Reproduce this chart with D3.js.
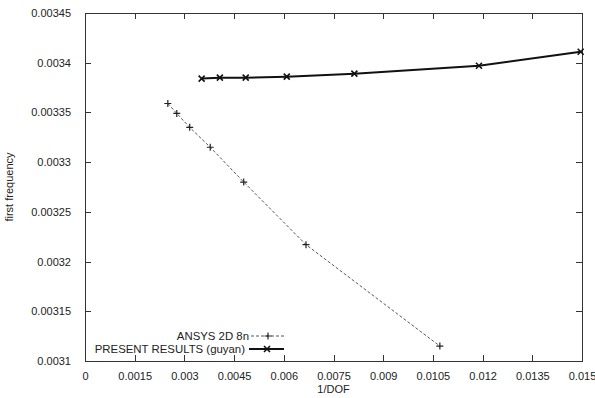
<!DOCTYPE html>
<html><head><meta charset="utf-8">
<script src="https://cdn.jsdelivr.net/npm/d3@7"></script>
<style>body{margin:0;background:#fff}svg{display:block}text{font-family:"Liberation Sans",Arial,sans-serif;fill:#222}</style>
</head><body><svg id="c" width="595" height="398"></svg>
<script>
const ansysX = [0.0025, 0.00277, 0.00316, 0.00378, 0.00479, 0.00667, 0.01071];
const ansysY = [0.003359, 0.003349, 0.003335, 0.003315, 0.003280, 0.003217, 0.003115];
const presentX = [0.00352, 0.00407, 0.00485, 0.00609, 0.00813, 0.01189, 0.01496];
const presentY = [0.003384, 0.003385, 0.003385, 0.003386, 0.003389, 0.003397, 0.003411];
const xTicks = [0, 0.0015, 0.003, 0.0045, 0.006, 0.0075, 0.009, 0.0105, 0.012, 0.0135, 0.015];
const xTickLabels = ["0","0.0015","0.003","0.0045","0.006","0.0075","0.009","0.0105","0.012","0.0135","0.015"];
const yTicks = [0.0031, 0.00315, 0.0032, 0.00325, 0.0033, 0.00335, 0.0034, 0.00345];
const yTickLabels = ["0.0031","0.00315","0.0032","0.00325","0.0033","0.00335","0.0034","0.00345"];
const seriesNames = ["ANSYS 2D 8n", "PRESENT RESULTS (guyan)"];

const L=85,R=582,T=13,B=361;
const svg=d3.select("#c");
const x=d3.scaleLinear().domain([0,0.015]).range([L,R]);
const y=d3.scaleLinear().domain([0.0031,0.00345]).range([B,T]);

const g=svg.append("g");
g.append("rect").attr("x",L).attr("y",T).attr("width",R-L).attr("height",B-T)
 .attr("fill","none").attr("stroke","#333").attr("stroke-width",1).attr("shape-rendering","crispEdges");

const fs=11;
const bx=svg.append("g").attr("transform",`translate(0,${B})`)
 .call(d3.axisBottom(x).tickValues(xTicks).tickFormat((d,i)=>xTickLabels[i]).tickSizeInner(-6).tickSizeOuter(0).tickPadding(11));
const tx=svg.append("g").attr("transform",`translate(0,${T})`)
 .call(d3.axisTop(x).tickValues(xTicks).tickFormat("").tickSizeInner(-6).tickSizeOuter(0));
const ly=svg.append("g").attr("transform",`translate(${L},0)`)
 .call(d3.axisLeft(y).tickValues(yTicks).tickFormat((d,i)=>yTickLabels[i]).tickSizeInner(-6).tickSizeOuter(0).tickPadding(14));
const ry=svg.append("g").attr("transform",`translate(${R},0)`)
 .call(d3.axisRight(y).tickValues(yTicks).tickFormat("").tickSizeInner(-6).tickSizeOuter(0));
[bx,tx,ly,ry].forEach(a=>{
  a.select(".domain").remove();
  a.selectAll("line").attr("stroke","#333").attr("shape-rendering","crispEdges");
  a.selectAll("text").attr("font-size",fs).attr("font-family","Liberation Sans, Arial, sans-serif").attr("fill","#222");
});

svg.append("text").attr("x",(L+R)/2).attr("y",393).attr("text-anchor","middle").attr("font-size",fs).text("1/DOF");
svg.append("text").attr("transform",`translate(13,${(T+B)/2}) rotate(-90)`).attr("text-anchor","middle").attr("font-size",fs).text("first frequency");

const line=d3.line().x(d=>x(d[0])).y(d=>y(d[1]));
const aData=ansysX.map((v,i)=>[v,ansysY[i]]);
const pData=presentX.map((v,i)=>[v,presentY[i]]);

function plus(sel,cx,cy,s,col,w){
  sel.append("path").attr("d",`M${cx-s},${cy}H${cx+s}M${cx},${cy-s}V${cy+s}`).attr("stroke",col).attr("stroke-width",w).attr("fill","none");
}
function cross(sel,cx,cy,s,col,w){
  sel.append("path").attr("d",`M${cx-s},${cy-s}L${cx+s},${cy+s}M${cx-s},${cy+s}L${cx+s},${cy-s}`).attr("stroke",col).attr("stroke-width",w).attr("fill","none");
}

g.append("path").datum(aData).attr("d",line).attr("fill","none").attr("stroke","#444").attr("stroke-width",0.9).attr("stroke-dasharray","3,2");
aData.forEach(d=>plus(g,x(d[0]),y(d[1]),3.5,"#222",1.2));
g.append("path").datum(pData).attr("d",line).attr("fill","none").attr("stroke","#111").attr("stroke-width",2);
pData.forEach(d=>cross(g,x(d[0]),y(d[1]),3,"#111",1.6));

const lgx=245, ly1=336, ly2=349, lfs=11.4;
svg.append("text").attr("x",lgx+4).attr("y",ly1+4).attr("text-anchor","end").attr("font-size",lfs).text(seriesNames[0]);
svg.append("text").attr("x",lgx).attr("y",ly2+4).attr("text-anchor","end").attr("font-size",lfs).text(seriesNames[1]);
svg.append("line").attr("x1",251).attr("x2",284).attr("y1",ly1).attr("y2",ly1).attr("stroke","#444").attr("stroke-width",0.9).attr("stroke-dasharray","3,2");
plus(svg,268,ly1,3.5,"#222",1.2);
svg.append("line").attr("x1",249).attr("x2",284).attr("y1",ly2).attr("y2",ly2).attr("stroke","#111").attr("stroke-width",2);
cross(svg,267,ly2,3,"#111",1.6);
</script></body></html>
